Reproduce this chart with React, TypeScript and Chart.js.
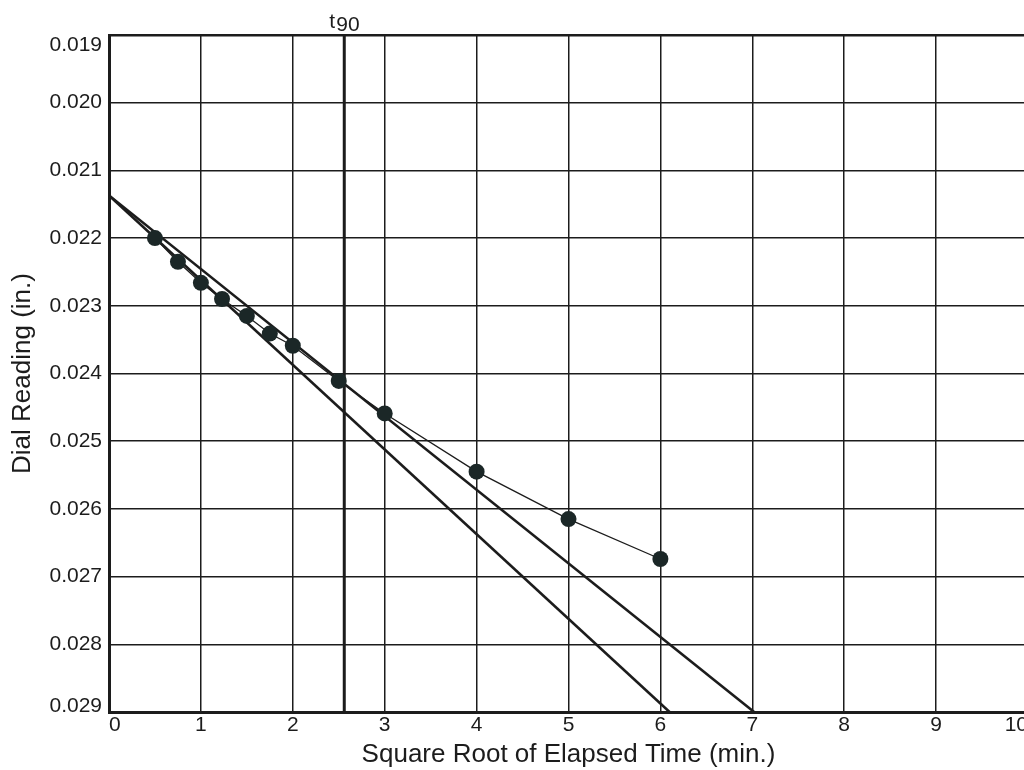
import React, { useEffect, useRef } from "react";
import { Chart, registerables } from "chart.js";

Chart.register(...registerables);

// Measured consolidation readings
const sqrtTime = [0.5, 0.75, 1.0, 1.23, 1.5, 1.75, 2.0, 2.5, 3.0, 4.0, 5.0, 6.0];
const dialReading = [0.022, 0.02235, 0.02266, 0.0229, 0.02315, 0.02341, 0.02359, 0.02411, 0.02459, 0.02545, 0.02615, 0.02674];

// Initial straight-line fit and the 1.15x line
const fitLineX = [0, 6.1];
const fitLineY = [0.02137, 0.029];
const scaledLineX = [0, 7.02];
const scaledLineY = [0.02137, 0.029];

// t90 marker
const t90Value = 2.56;
const t90LineY = [0.019, 0.029];

// Axis ranges / ticks
const xMin = 0;
const xMax = 10;
const xStep = 1;
const yMin = 0.019;
const yMax = 0.029;
const yStep = 0.001;

const FONT = "'Liberation Sans', Arial, Helvetica, sans-serif";
const INK = "#1c1c1c";

const near = (a: number, b: number) => Math.abs(a - b) < 1e-9;

export default function App() {
  const ref = useRef<HTMLCanvasElement>(null);

  useEffect(() => {
    if (!ref.current) return;

    const t90Plugin = {
      id: "t90Label",
      afterDraw(chart: any) {
        const x = chart.scales.x.getPixelForValue(t90Value);
        const ctx = chart.ctx;
        ctx.save();
        ctx.fillStyle = INK;
        ctx.font = `21px ${FONT}`;
        ctx.textAlign = "left";
        ctx.textBaseline = "alphabetic";
        ctx.fillText("t", x - 15, 28);
        ctx.fillText("90", x - 8, 31);
        ctx.restore();
      },
    };

    const pts = (xs: number[], ys: number[]) => xs.map((x, i) => ({ x, y: ys[i] }));

    const chart = new Chart(ref.current, {
      type: "scatter",
      data: {
        datasets: [
          {
            label: "Readings",
            data: pts(sqrtTime, dialReading),
            showLine: true,
            borderColor: INK,
            borderWidth: 1.3,
            pointRadius: 8,
            pointBackgroundColor: "#1b2727",
            pointBorderColor: "#1b2727",
            pointBorderWidth: 0,
          },
          {
            label: "Fit",
            data: pts(fitLineX, fitLineY),
            showLine: true,
            borderColor: INK,
            borderWidth: 2.6,
            pointRadius: 0,
          },
          {
            label: "1.15 Fit",
            data: pts(scaledLineX, scaledLineY),
            showLine: true,
            borderColor: INK,
            borderWidth: 2.6,
            pointRadius: 0,
          },
          {
            label: "t90",
            data: pts([t90Value, t90Value], t90LineY),
            showLine: true,
            borderColor: INK,
            borderWidth: 3,
            pointRadius: 0,
          },
        ],
      },
      options: {
        animation: false,
        responsive: false,
        devicePixelRatio: 1,
        layout: { padding: { left: 0, top: 35, right: 32, bottom: 0 } },
        plugins: {
          legend: { display: false },
          tooltip: { enabled: false },
        },
        scales: {
          x: {
            type: "linear",
            position: "bottom",
            min: xMin,
            max: xMax,
            afterFit: (s: any) => {
              s.height = 58;
            },
            ticks: {
              stepSize: xStep,
              align: "inner",
              autoSkip: false,
              maxRotation: 0,
              padding: 1,
              color: INK,
              font: { family: FONT, size: 21 },
            },
            grid: { color: INK, lineWidth: 1.5, drawTicks: false },
            border: { color: INK, width: 3 },
            title: {
              display: true,
              text: "Square Root of Elapsed Time (min.)",
              color: INK,
              font: { family: FONT, size: 26 },
              padding: { top: 0, bottom: 0 },
            },
          },
          y: {
            type: "linear",
            reverse: true,
            min: yMin,
            max: yMax,
            afterFit: (s: any) => {
              s.width = 109;
            },
            ticks: {
              stepSize: yStep,
              padding: 7,
              color: INK,
              font: (c: any) => {
                const v = c && c.tick ? c.tick.value : NaN;
                if (near(v, yMin)) return { family: FONT, size: 21, lineHeight: "20px" };
                if (near(v, yMax)) return { family: FONT, size: 21, lineHeight: "12px" };
                return { family: FONT, size: 21 };
              },
              callback: (v: any) => {
                const n = Number(v);
                const s = n.toFixed(3);
                if (near(n, yMin)) return ["", s];
                if (near(n, yMax)) return [s, ""];
                return s;
              },
            },
            grid: {
              color: INK,
              lineWidth: (c: any) => (c && c.tick && near(c.tick.value, yMin) ? 2.5 : 1.5),
              drawTicks: false,
            },
            border: { color: INK, width: 3 },
            title: {
              display: true,
              text: "Dial Reading (in.)",
              color: INK,
              font: { family: FONT, size: 26 },
              padding: { top: 7, bottom: 0 },
            },
          },
        },
      },
      plugins: [t90Plugin],
    });

    return () => chart.destroy();
  }, []);

  return (
    <div
      style={{
        position: "fixed",
        left: 0,
        top: 0,
        width: 1024,
        height: 770,
        overflow: "hidden",
        background: "#fff",
      }}
    >
      <canvas ref={ref} width={1060} height={770} style={{ display: "block", width: 1060, height: 770 }} />
    </div>
  );
}
